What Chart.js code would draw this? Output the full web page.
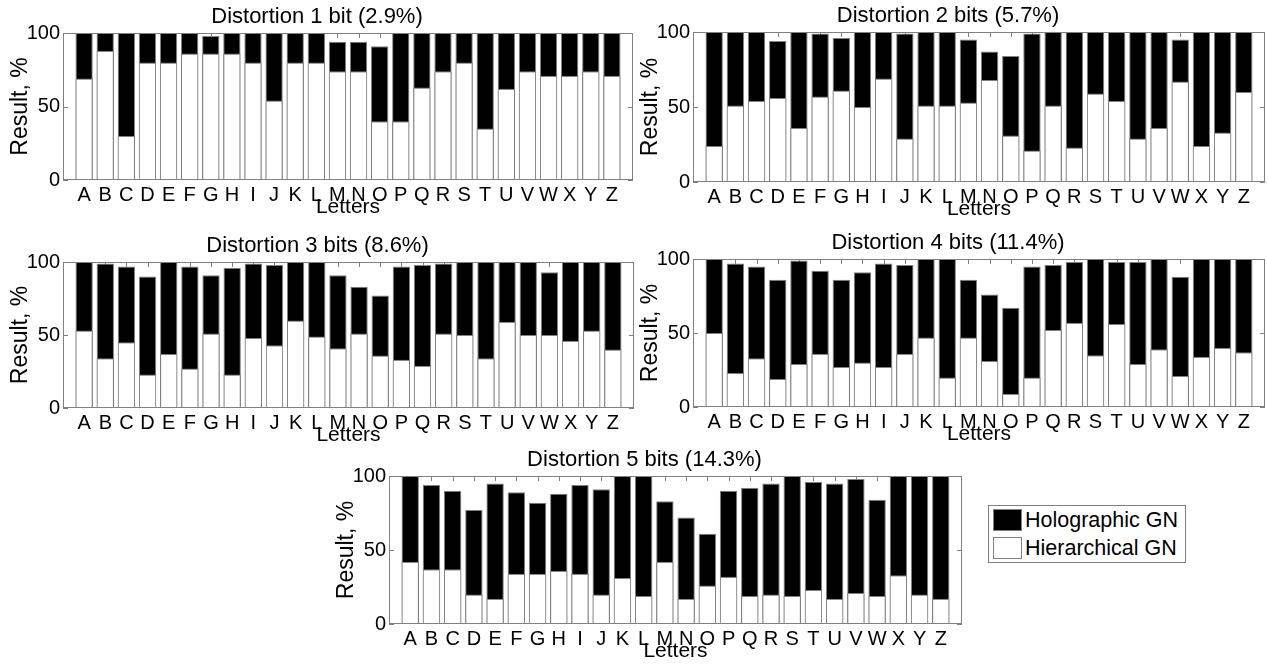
<!DOCTYPE html>
<html>
<head>
<meta charset="utf-8">
<title>Holographic vs hierarchical GN</title>
<script src="https://cdn.jsdelivr.net/npm/chart.js@4.4.1/dist/chart.umd.min.js"></script>
<style>
  html, body { margin: 0; padding: 0; background: #fff; }
  body { width: 1268px; height: 671px; position: relative; overflow: hidden; font-family: 'Liberation Sans', Arial, sans-serif; }
  canvas { position: absolute; }
  #legend { position: absolute; left: 988px; top: 505px; width: 196px; height: 56px; border: 1px solid #808080; font-size: 21.5px; color: #000; }
  .item { position: absolute; left: 4px; height: 22px; display: flex; align-items: center; white-space: nowrap; }
  .swatch { width: 27px; height: 20px; border: 1px solid #808080; margin-right: 3px; }
</style>
</head>
<body>
<div id="legend"></div>
<script>
const letters = ['A','B','C','D','E','F','G','H','I','J','K','L','M','N','O','P','Q','R','S','T','U','V','W','X','Y','Z'];
const titles = [
  'Distortion 1 bit (2.9%)',
  'Distortion 2 bits (5.7%)',
  'Distortion 3 bits (8.6%)',
  'Distortion 4 bits (11.4%)',
  'Distortion 5 bits (14.3%)'
];
const seriesNames = ['Holographic GN', 'Hierarchical GN'];
const yTickValues = [0, 50, 100];

// black bars (full height)
const holographic1 = [100,100,100,100,100,100,98,100,100,100,100,100,94,94,91,100,100,100,100,100,100,100,100,100,100,100];
const holographic2 = [100,100,100,94,100,99,96,100,100,99,100,100,95,87,84,99,100,100,100,100,100,100,95,100,100,100];
const holographic3 = [100,99,97,90,100,97,91,96,99,98,100,100,91,83,77,97,98,99,100,100,100,100,93,100,100,100];
const holographic4 = [100,97,95,86,99,92,86,91,97,96,100,100,86,76,67,95,96,98,100,98,98,100,88,100,100,100];
const holographic5 = [100,94,90,77,95,89,82,88,94,91,100,100,83,72,61,90,92,95,100,96,95,98,84,100,100,100];

// white bars (drawn in front)
const hierarchical1 = [69,88,30,80,80,86,86,86,80,54,80,80,74,74,40,40,63,74,80,35,62,74,71,71,74,71];
const hierarchical2 = [24,51,54,56,36,57,61,50,69,29,51,51,53,68,31,21,51,23,59,54,29,36,67,24,33,60];
const hierarchical3 = [53,34,45,23,37,27,51,23,48,43,60,49,41,51,36,33,29,51,50,34,59,50,50,46,53,40];
const hierarchical4 = [50,23,33,19,29,36,27,30,27,36,47,20,47,31,9,20,52,57,35,56,29,39,21,34,40,37];
const hierarchical5 = [42,37,37,20,17,34,34,36,34,20,31,19,42,17,26,32,19,20,19,23,17,21,19,33,20,17];

const holographic = [holographic1, holographic2, holographic3, holographic4, holographic5];
const hierarchical = [hierarchical1, hierarchical2, hierarchical3, hierarchical4, hierarchical5];

// plot area of each panel: left, top, width, height
const panelRects = [
  [63, 33, 571, 147],
  [693, 32, 573, 150],
  [63, 262, 572, 146],
  [693, 259, 573, 148],
  [389, 476, 574, 148]
];

const FONT = "'Liberation Sans', Arial, sans-serif";
const EDGE = '#808080';
const Y_AXIS_W = 63;
const X_AXIS_H = 45;
const TITLE_H = 34;
const RIGHT_PAD = 2;
const TICK = 5;

const frame = {
  id: 'frame',
  beforeDatasetsDraw(chart) {
    const { ctx, chartArea: a, scales: { x, y } } = chart;
    ctx.save();
    ctx.strokeStyle = EDGE;
    ctx.lineWidth = 1;
    ctx.beginPath();
    letters.forEach((_, i) => {
      const px = Math.round(x.getPixelForValue(i + 1)) + 0.5;
      ctx.moveTo(px, a.top);
      ctx.lineTo(px, a.top + TICK);
      ctx.moveTo(px, a.bottom);
      ctx.lineTo(px, a.bottom - TICK);
    });
    yTickValues.forEach(v => {
      const py = Math.round(y.getPixelForValue(v)) + 0.5;
      ctx.moveTo(a.left, py);
      ctx.lineTo(a.left + TICK, py);
      ctx.moveTo(a.right, py);
      ctx.lineTo(a.right - TICK, py);
    });
    ctx.stroke();
    ctx.restore();
  },
  afterDatasetsDraw(chart) {
    const { ctx, chartArea: a } = chart;
    ctx.save();
    ctx.strokeStyle = EDGE;
    ctx.lineWidth = 1;
    ctx.strokeRect(Math.round(a.left) + 0.5, Math.round(a.top) + 0.5,
      Math.round(a.right - a.left) - 1, Math.round(a.bottom - a.top) - 1);
    ctx.restore();
  }
};

function makePanel(idx) {
  const [left, top, width, height] = panelRects[idx];
  const cw = Y_AXIS_W + width + RIGHT_PAD;
  const ch = TITLE_H + height + X_AXIS_H;
  const canvas = document.createElement('canvas');
  canvas.width = cw;
  canvas.height = ch;
  canvas.style.left = (left - Y_AXIS_W) + 'px';
  canvas.style.top = (top - TITLE_H) + 'px';
  canvas.style.width = cw + 'px';
  canvas.style.height = ch + 'px';
  document.body.appendChild(canvas);

  const pad = v => [null, ...v, null];
  const barStyle = {
    borderColor: EDGE,
    borderWidth: 1,
    borderSkipped: false,
    grouped: false,
    barPercentage: 0.82,
    categoryPercentage: 1
  };

  new Chart(canvas, {
    type: 'bar',
    data: {
      labels: ['', ...letters, ''],
      datasets: [
        { label: seriesNames[1], data: pad(hierarchical[idx]), backgroundColor: '#ffffff', ...barStyle },
        { label: seriesNames[0], data: pad(holographic[idx]), backgroundColor: '#000000', ...barStyle }
      ]
    },
    options: {
      responsive: false,
      animation: false,
      devicePixelRatio: 1,
      layout: { padding: { left: 0, right: RIGHT_PAD, top: 0, bottom: 0 } },
      plugins: {
        legend: { display: false },
        tooltip: { enabled: false },
        title: {
          display: true,
          text: titles[idx],
          color: '#000',
          font: { family: FONT, size: 22, weight: 'normal' },
          padding: { top: 4.5, bottom: 3.1 }
        }
      },
      scales: {
        x: {
          type: 'category',
          offset: false,
          grid: { display: false, drawTicks: false },
          border: { display: false },
          ticks: { color: '#000', font: { family: FONT, size: 20 }, padding: 3, autoSkip: false, maxRotation: 0 },
          title: { display: true, text: 'Letters', color: '#000', font: { family: FONT, size: 21 }, padding: { top: 0, bottom: 4.7 } },
          afterFit: s => { s.height = X_AXIS_H; }
        },
        y: {
          min: 0,
          max: 100,
          grid: { display: false, drawTicks: false },
          border: { display: false },
          ticks: { stepSize: 50, color: '#000', font: { family: FONT, size: 20 }, padding: 3 },
          title: { display: true, text: 'Result, %', color: '#000', font: { family: FONT, size: 23 }, padding: { top: 6.7, bottom: 0 } },
          afterFit: s => { s.width = Y_AXIS_W; }
        }
      }
    },
    plugins: [frame]
  });
}

titles.forEach((_, i) => makePanel(i));

// legend
const legend = document.getElementById('legend');
[['#000000', seriesNames[0], 3], ['#ffffff', seriesNames[1], 31]].forEach(([color, name, y]) => {
  const item = document.createElement('div');
  item.className = 'item';
  item.style.top = y + 'px';
  const sw = document.createElement('div');
  sw.className = 'swatch';
  sw.style.background = color;
  const label = document.createElement('span');
  label.textContent = name;
  item.appendChild(sw);
  item.appendChild(label);
  legend.appendChild(item);
});
</script>
</body>
</html>
